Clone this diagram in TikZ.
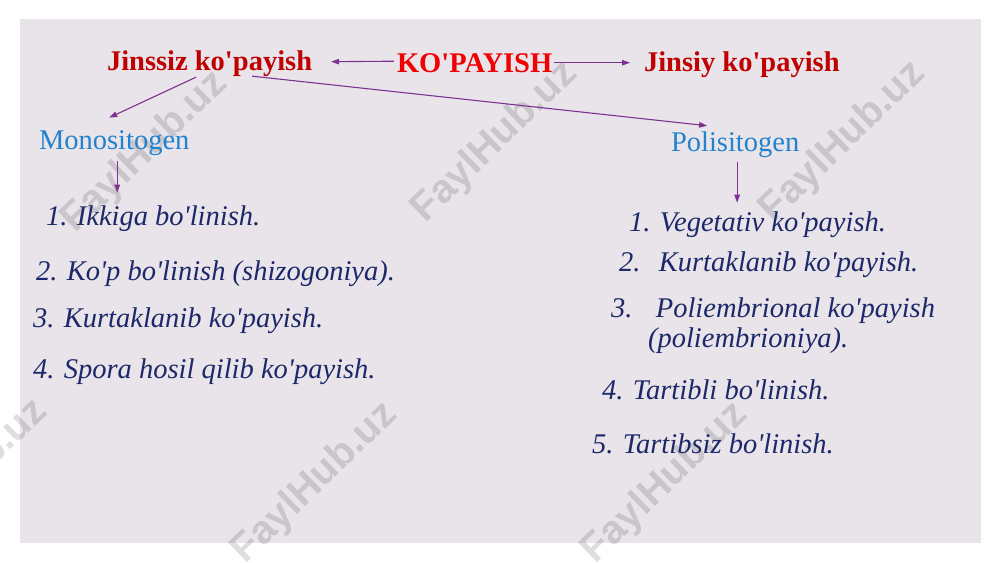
\documentclass[tikz,border=0pt]{standalone}
\usepackage{fontspec}
\setmainfont{Liberation Serif}[Ligatures=TeXOff]
\newfontfamily\wmfont{Liberation Sans}
\usetikzlibrary{arrows.meta,calc}
\definecolor{bgc}{RGB}{232,228,234}
\definecolor{darkred}{RGB}{192,0,0}
\definecolor{brightred}{RGB}{240,0,0}
\definecolor{subblue}{RGB}{35,130,205}
\definecolor{navy}{RGB}{28,40,105}
\definecolor{arrowc}{RGB}{125,50,145}
\begin{document}
\begin{tikzpicture}[x=1pt,y=-1pt,
  every node/.style={inner sep=0pt,outer sep=0pt,anchor=base west},
  head/.style={font=\fontsize{28.5}{34}\selectfont\bfseries,text=darkred},
  mainhead/.style={font=\fontsize{28.5}{34}\selectfont\bfseries,text=brightred},
  sub/.style={font=\fontsize{28.5}{34}\selectfont,text=subblue},
  item/.style={font=\fontsize{28.5}{34}\selectfont\itshape,text=navy},
  conn/.style={draw=arrowc,line width=1.1pt,-{Triangle[length=8pt,width=5.5pt]}},
  wm/.style={font=\wmfont\bfseries\fontsize{40}{40}\selectfont,text=black,opacity=0.13,rotate=44,anchor=center}]
\useasboundingbox (0,0) rectangle (1000,562);
\clip (0,0) rectangle (1000,562);
\fill[white] (0,0) rectangle (1000,562);
\fill[bgc] (20,19) rectangle (981,543);
% watermarks
\node[wm] (w1) at (145,152) {FaylHub.uz};
\node[wm] (w2) at (495,142) {FaylHub.uz};
\node[wm] (w3) at (843,142) {FaylHub.uz};
\node[wm] (w4) at (-35,480) {FaylHub.uz};
\node[wm] (w5) at (315,483) {FaylHub.uz};
\node[wm] (w6) at (665,483) {FaylHub.uz};
% headings
\node[head] (jz) at (107,70) {Jinssiz ko'payish};
\node[mainhead] (kop) at (397,72) {KO'PAYISH};
\node[head] (js) at (644,71) {Jinsiy ko'payish};
\node[sub] (mono) at (39,149) {Monositogen};
\node[sub] (poli) at (671,151) {Polisitogen};
% left list
\node[item] (l1) at (46,225) {1. Ikkiga bo'linish.};
\node[item] (l2) at (36,280) {2. Ko'p bo'linish (shizogoniya).};
\node[item] (l3) at (33,327) {3. Kurtaklanib ko'payish.};
\node[item] (l4) at (33,378) {4. Spora hosil qilib ko'payish.};
% right list
\node[item] (r1) at (629,231) {1. Vegetativ ko'payish.};
\node[item] (r2) at (619,271) {2.\hspace{9pt} Kurtaklanib ko'payish.};
\node[item] (r3) at (611,317) {3.\hspace{14pt} Poliembrional ko'payish};
\node[item] (r3b) at (648,347) {(poliembrioniya).};
\node[item] (r4) at (602,399) {4. Tartibli bo'linish.};
\node[item] (r5) at (592,453) {5. Tartibsiz bo'linish.};
% connectors
\draw[conn] ($(kop.west)+(-3,-1.5)$) -- ($(jz.east)+(19,-1.5)$);
\draw[conn] ($(kop.east)+(2,0)$) -- ($(kop.east -| js.west)+(-14,0)$);
\draw[conn] ($(jz.south)+(-13.5,1)$) -- ($(mono.north)+(-5,-12.5)$);
\draw[conn] ($(jz.south)+(42.5,0)$) -- ($(poli.north)+(-28,-5.5)$);
\draw[conn] ($(mono.south)+(3,6)$) -- ($(mono.south |- l1.north)+(3,-12.5)$);
\draw[conn] ($(poli.south)+(2,5)$) -- ($(poli.south |- r1.north)+(2,-8.5)$);
\end{tikzpicture}
\end{document}
